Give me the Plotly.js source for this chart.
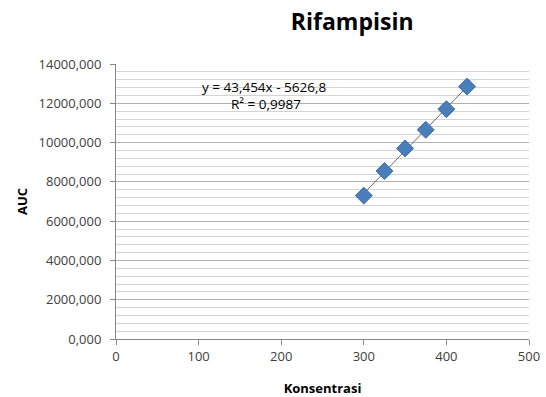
<!DOCTYPE html>
<html><head><meta charset="utf-8">
<script src="https://cdn.plot.ly/plotly-3.0.1.min.js"></script>
<style>html,body{margin:0;padding:0;background:#fff}</style>
</head><body><div id="chart" style="width:546px;height:397px"></div>
<script>
const konsentrasi = [300, 325, 350, 375, 400, 425];
const auc = [7300, 8550, 9700, 10650, 11700, 12850];
const slope = 43.454, intercept = -5626.8;
const trendX = [konsentrasi[0], konsentrasi[konsentrasi.length - 1]];
const trendY = trendX.map(x => slope * x + intercept);
const xTicks = [0, 100, 200, 300, 400, 500];

const font = "'Open Sans', 'DejaVu Sans', sans-serif";
const traces = [
  {x: trendX, y: trendY, mode: 'lines', type: 'scatter',
   line: {color: '#6b6b6b', width: 1}, hoverinfo: 'skip', showlegend: false},
  {x: konsentrasi, y: auc, mode: 'markers', type: 'scatter',
   marker: {symbol: 'diamond', size: 13, color: '#4a7ebb', line: {color: '#3d6ea8', width: 1}},
   showlegend: false}
];
const layout = {
  width: 546, height: 397,
  margin: {l: 116, r: 17, t: 64, b: 58},
  paper_bgcolor: '#fff', plot_bgcolor: '#fff',
  separators: ',.',
  font: {family: font, color: '#404040', size: 13},
  title: {text: '<b>Rifampisin</b>', x: 0.645, xanchor: 'center', y: 0.945, yanchor: 'middle',
          font: {family: font, size: 23, color: '#000'}},
  xaxis: {range: [0, 500], tickvals: xTicks, ticks: 'outside', ticklen: 5, tickcolor: '#888',
          showline: true, linecolor: '#888', showgrid: false, zeroline: false,
          tickfont: {size: 13, color: '#404040'},
          title: {text: '<b>Konsentrasi</b>', font: {size: 13, color: '#000'}, standoff: 20}},
  yaxis: {range: [0, 14000], dtick: 2000, tickformat: '.3f', ticks: 'outside', ticklen: 5, tickcolor: '#888',
          ticklabelstandoff: 6,
          showline: true, linecolor: '#888', showgrid: true, gridcolor: '#b0b0b0', gridwidth: 1,
          zeroline: false, tickfont: {size: 13, color: '#404040'},
          minor: {dtick: 400, showgrid: true, gridcolor: '#d4d4d4', gridwidth: 1},
          title: {text: '<b>AUC</b>', font: {size: 13, color: '#000'}, standoff: 8}},
  annotations: [
    {xref: 'paper', yref: 'paper', x: 0.358, y: 0.915, text: 'y = 43,454x - 5626,8', showarrow: false,
     font: {size: 13.5, color: '#000'}, xanchor: 'center', yanchor: 'middle'},
    {xref: 'paper', yref: 'paper', x: 0.363, y: 0.855, text: 'R² = 0,9987', showarrow: false,
     font: {size: 13.5, color: '#000'}, xanchor: 'center', yanchor: 'middle'}
  ]
};
Plotly.newPlot('chart', traces, layout, {displayModeBar: false, staticPlot: true});
</script></body></html>
